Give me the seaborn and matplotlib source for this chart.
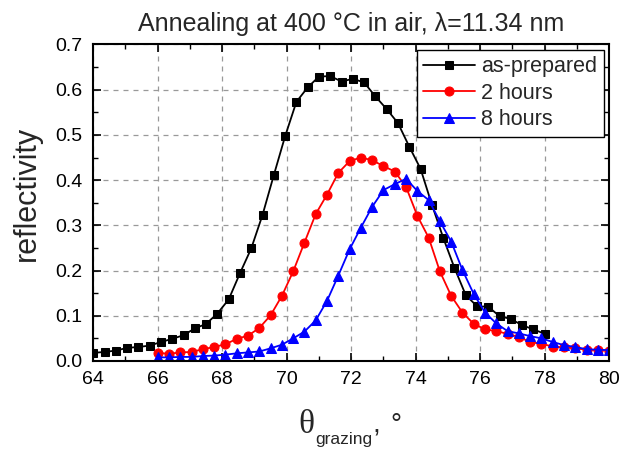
import numpy as np
import matplotlib
matplotlib.use("Agg")
import matplotlib.pyplot as plt
from matplotlib.ticker import MultipleLocator, FormatStrFormatter
import seaborn as sns

# measured angles (0.35 deg steps)
theta_prep = np.linspace(64, 78, 41)
theta_2h = np.linspace(66, 80, 41)
theta_8h = np.linspace(66, 80, 41)

refl_prep = [0.018, 0.020, 0.023, 0.029, 0.031, 0.034, 0.042, 0.049, 0.057, 0.072,
             0.082, 0.105, 0.136, 0.194, 0.249, 0.323, 0.411, 0.497, 0.573, 0.605,
             0.629, 0.630, 0.618, 0.624, 0.616, 0.585, 0.557, 0.526, 0.474, 0.425,
             0.346, 0.273, 0.206, 0.146, 0.121, 0.120, 0.099, 0.093, 0.079, 0.070,
             0.060]
refl_2h = [0.018, 0.016, 0.019, 0.020, 0.026, 0.031, 0.037, 0.049, 0.056, 0.073,
           0.101, 0.144, 0.198, 0.262, 0.325, 0.368, 0.416, 0.442, 0.450, 0.444,
           0.431, 0.419, 0.385, 0.321, 0.273, 0.198, 0.144, 0.107, 0.082, 0.070,
           0.066, 0.060, 0.053, 0.042, 0.038, 0.032, 0.030, 0.028, 0.025, 0.024,
           0.023]
refl_8h = [0.008, 0.008, 0.009, 0.009, 0.011, 0.012, 0.014, 0.017, 0.019, 0.021,
           0.028, 0.036, 0.050, 0.065, 0.090, 0.133, 0.189, 0.247, 0.295, 0.341,
           0.378, 0.391, 0.403, 0.376, 0.356, 0.309, 0.264, 0.201, 0.148, 0.107,
           0.083, 0.066, 0.061, 0.055, 0.050, 0.042, 0.035, 0.031, 0.026, 0.025,
           0.024]

labels = ["as-prepared", "2 hours", "8 hours"]

sns.set_style("ticks")
plt.rcParams["font.family"] = ["Liberation Sans", "DejaVu Sans"]

fig = plt.figure(figsize=(6.19, 4.49), dpi=100)
ax = fig.add_axes([0.1506, 0.196, 0.8336, 0.705])

series = [
    (theta_prep, refl_prep, "black", "s", 6),
    (theta_2h, refl_2h, "red", "o", 6.5),
    (theta_8h, refl_8h, "blue", "^", 6.5),
]
for (x, y, c, m, ms), lab in zip(series, labels):
    sns.lineplot(x=x, y=y, ax=ax, color=c, marker=m, markersize=ms,
                 markeredgecolor=c, linewidth=1.3, label=lab)

ax.set_xlim(64, 80)
ax.set_ylim(0, 0.7)
ax.xaxis.set_major_locator(MultipleLocator(2))
ax.xaxis.set_minor_locator(MultipleLocator(1))
ax.yaxis.set_major_locator(MultipleLocator(0.1))
ax.yaxis.set_minor_locator(MultipleLocator(0.05))
ax.yaxis.set_major_formatter(FormatStrFormatter("%.1f"))
ax.grid(True, which="major", linestyle=(0, (4, 4)), color="#999999", linewidth=0.9)
ax.tick_params(which="both", direction="in", top=True, right=True, labelsize=14,
               colors="black")
ax.tick_params(axis="x", which="major", pad=7)
ax.tick_params(axis="y", which="major", pad=8)
ax.tick_params(which="major", length=6, width=1.2)
ax.tick_params(which="minor", length=3.5, width=1.0)
for s in ax.spines.values():
    s.set_linewidth(1.5)
    s.set_color("black")

ax.set_title("Annealing at 400 \u00b0C in air, \u03bb=11.34 nm", fontsize=18, pad=10)
ax.set_ylabel("reflectivity", fontsize=22)
ax.yaxis.set_label_coords(-0.100, 0.528)
ax.set_xlabel("")

# x label: large serif theta, small sans subscript, then ", °"
fig.text(306 / 619, 1 - 433 / 449, "\u03b8", family="Liberation Serif",
         fontsize=24, ha="center", va="baseline")
fig.text(315 / 619, 1 - 444 / 449, "grazing", fontsize=12.5, ha="left", va="baseline")
fig.text(372 / 619, 1 - 433 / 449, ",", fontsize=20, ha="left", va="baseline")
fig.text(390 / 619, 1 - 433 / 449, "\u00b0", fontsize=20, ha="left", va="baseline")

leg = ax.legend(loc="upper right", fontsize=15.5, frameon=True, fancybox=False,
                framealpha=1, edgecolor="black", borderpad=0.3, labelspacing=0.25,
                handlelength=2.4, handletextpad=0.3, borderaxespad=0.25)
leg.get_frame().set_linewidth(1.0)

fig.savefig("out.png", dpi=100)
